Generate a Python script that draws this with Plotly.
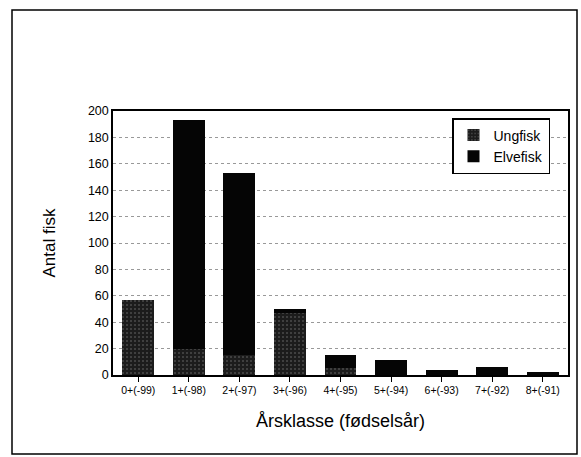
import plotly.graph_objects as go

categories = ["0+(-99)", "1+(-98)", "2+(-97)", "3+(-96)", "4+(-95)",
              "5+(-94)", "6+(-93)", "7+(-92)", "8+(-91)"]
ungfisk = [57, 20, 15, 47, 5, 0, 0, 0, 0]
elvefisk = [0, 173, 138, 3, 10, 11, 4, 6, 2.5]
y_ticks = [0, 20, 40, 60, 80, 100, 120, 140, 160, 180, 200]

FONT = "Liberation Sans, Arial, sans-serif"

fig = go.Figure()
fig.add_trace(go.Bar(
    name="Ungfisk", x=categories, y=ungfisk,
    marker=dict(color="#222", line=dict(width=0),
                pattern=dict(shape=".", fgcolor="#7a7a7a", bgcolor="#1c1c1c",
                             size=4, solidity=0.2)),
))
fig.add_trace(go.Bar(
    name="Elvefisk", x=categories, y=elvefisk,
    marker=dict(color="#050505", line=dict(width=0)),
))

W, H = 581, 457
L, T = 113, 111
R = 581 - 568
B = 457 - 375
pw, ph = W - L - R, H - T - B

def px(x):
    return (x - L) / pw

def py(y):
    return (H - B - y) / ph

fig.update_layout(
    width=W, height=H,
    margin=dict(l=L, r=R, t=T, b=B),
    barmode="stack",
    bargap=0.37,
    paper_bgcolor="white",
    plot_bgcolor="white",
    font=dict(family=FONT, color="#000"),
    legend=dict(
        x=px(452), y=py(118), xanchor="left", yanchor="top",
        bordercolor="#000", borderwidth=1.5, bgcolor="white",
        font=dict(size=14, family=FONT, color="#000"),
        tracegroupgap=0, itemwidth=30,
        traceorder="normal",
    ),
    xaxis=dict(
        showline=True, linecolor="#000", linewidth=1.5, mirror=True,
        ticks="outside", ticklen=5, tickcolor="#000",
        tickfont=dict(size=10.5, family=FONT, color="#000"),
        title=dict(text="Årsklasse (fødselsår)", font=dict(size=18, family=FONT, color="#000"),
                   standoff=19),
    ),
    yaxis=dict(
        range=[0, 200], tickvals=y_ticks,
        showline=True, linecolor="#000", linewidth=1.5, mirror=True,
        ticks="", tickfont=dict(size=12.5, family=FONT, color="#000"),
        showgrid=True, gridcolor="#999", gridwidth=1, griddash="dot",
        title=dict(text="Antal fisk", font=dict(size=17, family=FONT, color="#000"),
                   standoff=28),
        zeroline=False,
    ),
    shapes=[dict(
        type="rect", xref="paper", yref="paper",
        x0=px(12), x1=px(577), y0=py(454), y1=py(10),
        line=dict(color="#000", width=1.5), fillcolor="rgba(0,0,0,0)",
        layer="below",
    )],
)

fig.write_html(
    "out.html",
    config={"displayModeBar": False},
    post_script="document.body.style.margin='0';document.body.style.overflow='hidden';",
)
